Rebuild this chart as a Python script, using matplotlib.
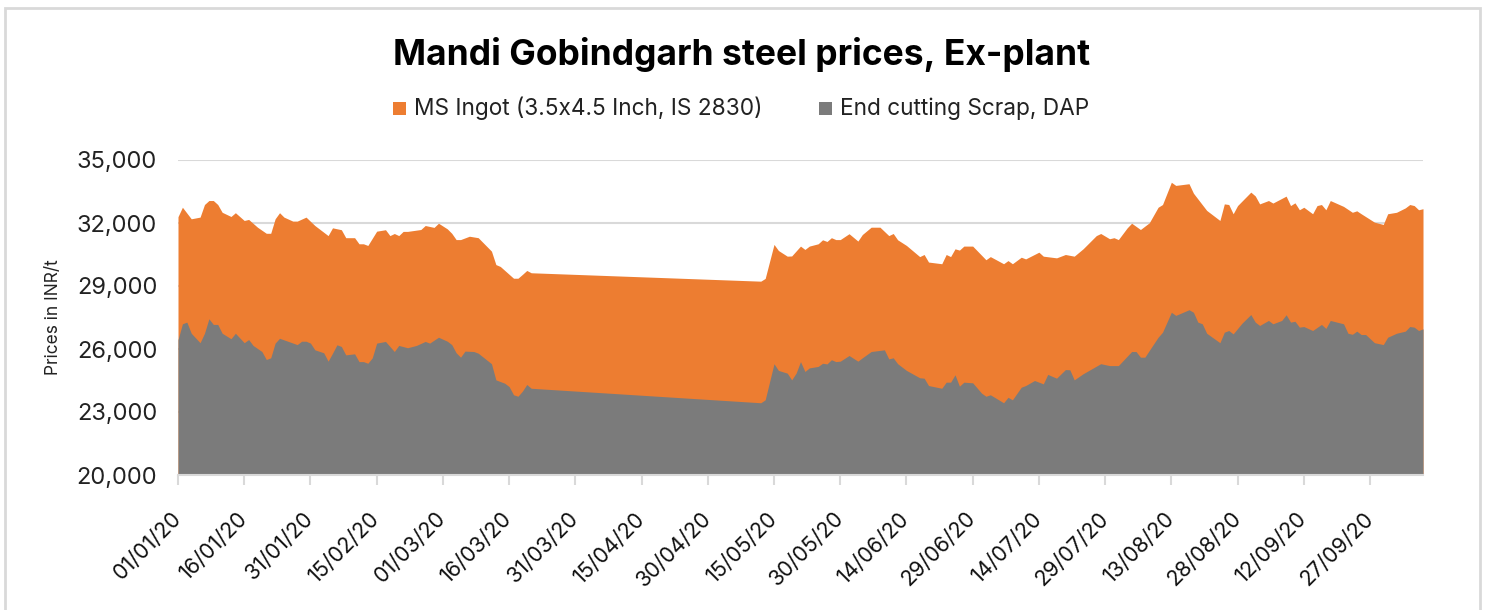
import numpy as np
import pandas as pd
import matplotlib
matplotlib.use("Agg")
import matplotlib.pyplot as plt
import matplotlib.dates as mdates
from matplotlib.patches import Rectangle

plt.rcParams['font.family'] = ['Inter', 'DejaVu Sans']

start = pd.Timestamp('2020-01-01')

# days after 01/01/20 and prices (INR/t)
ingot_days = [0, 1, 3, 5, 6, 7, 8, 9, 10, 12, 13, 15, 16, 18, 20, 21, 22, 23, 24, 26,
              27, 29, 31, 34, 35, 37, 38, 40, 41, 42, 43, 45, 47, 48, 49, 50, 51, 52, 55, 56,
              58, 59, 61, 62, 63, 64, 66, 68, 71, 72, 73, 76, 77, 78, 79, 80, 132, 133, 135, 136,
              138, 139, 141, 142, 143, 145, 146, 147, 148, 149, 150, 152, 154, 155, 157, 159, 161, 162, 163, 165,
              168, 169, 170, 173, 174, 175, 176, 177, 178, 180, 183, 184, 187, 188, 189, 191, 192, 195, 196, 199,
              201, 203, 205, 208, 209, 211, 212, 213, 215, 216, 218, 220, 222, 223, 225, 226, 229, 230, 233, 236,
              237, 238, 239, 240, 243, 244, 245, 247, 248, 251, 252, 253, 254, 255, 257, 258, 259, 260, 261, 264,
              266, 267, 268, 271, 273, 274, 276, 278, 279, 280, 281, 282]
ingot_vals = [32300, 32750, 32200, 32280, 32880, 33070, 33070, 32880, 32510, 32310,
              32490, 32120, 32170, 31800, 31510, 31510, 32200, 32490, 32280, 32090,
              32090, 32280, 31880, 31400, 31770, 31680, 31300, 31300, 31010, 31010,
              30930, 31610, 31680, 31400, 31500, 31400, 31600, 31600, 31690, 31880,
              31790, 31990, 31720, 31510, 31210, 31210, 31370, 31300, 30660, 30020,
              29930, 29370, 29370, 29550, 29740, 29630, 29230, 29360, 30980, 30690,
              30420, 30430, 30900, 30740, 30900, 31010, 31200, 31120, 31300, 31210,
              31210, 31490, 31140, 31450, 31800, 31800, 31400, 31500, 31200, 30930,
              30400, 30500, 30140, 30060, 30500, 30400, 30770, 30710, 30900, 30900,
              30250, 30400, 30060, 30210, 30060, 30370, 30290, 30610, 30420, 30340,
              30500, 30420, 30770, 31400, 31500, 31250, 31300, 31210, 31770, 31990,
              31690, 32010, 32750, 32880, 33940, 33790, 33870, 33420, 32600, 32120,
              32910, 32880, 32440, 32830, 33470, 33290, 32910, 33070, 32950, 33280,
              32830, 32960, 32630, 32750, 32440, 32830, 32880, 32630, 33070, 32790,
              32510, 32580, 32440, 32040, 31930, 32440, 32510, 32720, 32880, 32830,
              32630, 32680]

scrap_days = [0, 1, 2, 3, 5, 6, 7, 8, 9, 10, 12, 13, 15, 16, 17, 19, 20, 21, 22, 23,
              25, 27, 28, 29, 30, 31, 33, 34, 35, 36, 37, 38, 40, 41, 42, 43, 44, 45, 47, 49,
              50, 52, 54, 56, 57, 59, 61, 62, 63, 64, 65, 67, 68, 71, 72, 74, 75, 76, 77, 78,
              79, 80, 132, 133, 135, 136, 138, 139, 140, 141, 142, 143, 145, 146, 147, 148, 149, 150, 152, 154,
              155, 157, 160, 161, 162, 163, 165, 168, 169, 170, 173, 174, 175, 176, 177, 178, 180, 182, 183, 184,
              187, 188, 189, 191, 192, 194, 196, 197, 199, 201, 202, 203, 205, 207, 209, 211, 213, 216, 217, 218,
              219, 220, 222, 223, 225, 226, 229, 230, 231, 232, 233, 236, 237, 238, 239, 241, 243, 244, 245, 247,
              248, 250, 251, 252, 253, 254, 255, 257, 259, 260, 261, 264, 265, 266, 267, 268, 269, 271, 273, 274,
              276, 278, 279, 280, 281, 282]
scrap_vals = [26440, 27200, 27280, 26750, 26300, 26750, 27440, 27170, 27170, 26750,
              26490, 26750, 26300, 26450, 26170, 25880, 25500, 25580, 26280, 26510,
              26360, 26210, 26370, 26370, 26280, 25960, 25820, 25420, 25800, 26200,
              26120, 25720, 25770, 25400, 25400, 25320, 25580, 26280, 26360, 25880,
              26170, 26060, 26170, 26360, 26280, 26560, 26370, 26210, 25820, 25610,
              25900, 25880, 25800, 25300, 24530, 24370, 24210, 23820, 23750, 23990,
              24310, 24130, 23440, 23580, 25300, 24980, 24850, 24530, 24850, 25400,
              24930, 25100, 25170, 25320, 25290, 25490, 25400, 25420, 25690, 25420,
              25580, 25880, 25960, 25530, 25580, 25300, 24980, 24630, 24610, 24260,
              24130, 24420, 24420, 24770, 24230, 24420, 24390, 23900, 23750, 23820,
              23440, 23700, 23580, 24180, 24260, 24500, 24340, 24790, 24610, 25020,
              25010, 24530, 24820, 25060, 25300, 25210, 25210, 25880, 25880, 25610,
              25610, 25930, 26560, 26800, 27750, 27600, 27870, 27750, 27280, 27200,
              26750, 26300, 26800, 26880, 26720, 27230, 27640, 27280, 27120, 27360,
              27200, 27360, 27630, 27280, 27320, 27040, 27070, 26880, 27170, 26980,
              27360, 27200, 26750, 26700, 26850, 26690, 26690, 26300, 26210, 26560,
              26750, 26850, 27070, 27040, 26880, 26960]

series_names = ['MS Ingot (3.5x4.5 Inch, IS 2830)', 'End cutting Scrap, DAP']
y_ticks = [20000, 23000, 26000, 29000, 32000, 35000]

ORANGE = '#ed7d31'
GREY = '#7b7b7b'
LIGHT = '#d9d9d9'

ingot_dates = start + pd.to_timedelta(ingot_days, unit='D')
scrap_dates = start + pd.to_timedelta(scrap_days, unit='D')

W, H = 1485, 610
fig = plt.figure(figsize=(W / 100, H / 100), dpi=100)
ax = fig.add_axes([178 / W, 1 - 475 / H, (1423 - 178) / W, (475 - 160) / H])

ax.fill_between(ingot_dates, y_ticks[0], ingot_vals, color=ORANGE, lw=0, zorder=2)
ax.fill_between(scrap_dates, y_ticks[0], scrap_vals, color=GREY, lw=0, zorder=3)

ax.set_ylim(y_ticks[0], y_ticks[-1])
ax.set_xlim(start, start + pd.Timedelta(days=max(ingot_days)))
ax.set_yticks(y_ticks)
ax.set_yticklabels([f'{v:,}' for v in y_ticks])
xt = pd.date_range(start, start + pd.Timedelta(days=270), freq='15D')
ax.set_xticks(xt)
ax.xaxis.set_major_formatter(mdates.DateFormatter('%d/%m/%y'))

ax.grid(axis='y', color=LIGHT, lw=1.5)
ax.set_axisbelow(True)
for s in ['top', 'right', 'left']:
    ax.spines[s].set_visible(False)
ax.spines['bottom'].set_color(LIGHT)
ax.spines['bottom'].set_linewidth(1.5)
ax.spines['bottom'].set_zorder(4)

ax.tick_params(axis='y', length=0, pad=15, labelsize=17, labelcolor='#222222')
ax.tick_params(axis='x', length=7, width=1.5, color=LIGHT, pad=22, labelsize=15.5, labelcolor='#111111')
for lab in ax.get_xticklabels():
    lab.set_rotation(45)
    lab.set_ha('right')
    lab.set_va('center')
    lab.set_rotation_mode('anchor')

ax.set_ylabel('Prices in INR/t', fontsize=12.5, color='#222222')
ax.yaxis.set_label_coords((62 - 178) / (1423 - 178), 0.5)

fig.text(742 / W, 1 - 54 / H, 'Mandi Gobindgarh steel prices, Ex-plant',
         ha='center', va='center', fontsize=25.5, fontweight='bold', color='#000000')

# legend drawn by hand
leg = [(393, ORANGE, series_names[0]), (819, GREY, series_names[1])]
for x0, col, name in leg:
    fig.patches.append(Rectangle((x0 / W, 1 - 115 / H), 13 / W, 13 / H,
                                 transform=fig.transFigure, color=col, lw=0))
    fig.text((x0 + 21) / W, 1 - 108.5 / H, name, ha='left', va='center',
             fontsize=16.3, color='#222222')

fig.patches.append(Rectangle((5 / W, -0.05), (1480 - 5) / W, (H - 8) / H + 0.05,
                             transform=fig.transFigure, fill=False, ec=LIGHT, lw=2))

fig.savefig('out.png', dpi=100)
